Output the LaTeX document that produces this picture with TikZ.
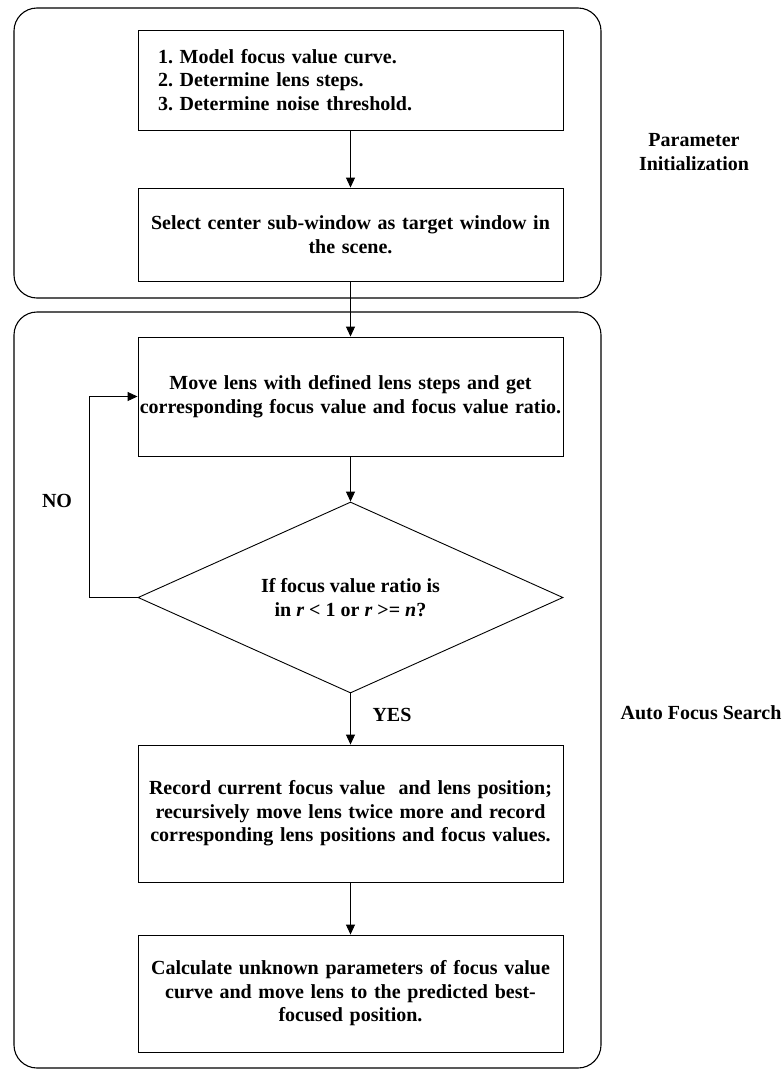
\documentclass[tikz,border=0pt]{standalone}
\usepackage{fontspec}
\setmainfont{Liberation Serif}
\usetikzlibrary{shapes.geometric,arrows.meta}
\frenchspacing
\begin{document}
\begin{tikzpicture}[x=1pt,y=-1pt,
  every node/.style={font=\fontsize{20}{23.5}\selectfont\bfseries},
  frame/.style={draw, line width=1.1pt, rounded corners=23pt, minimum width=587pt, inner sep=0pt},
  stepbox/.style={draw, line width=0.9pt, minimum width=425pt, text width=425pt, inner sep=0pt, align=center},
  decision/.style={draw, line width=0.9pt, shape=diamond, aspect=2.225, minimum width=425pt, minimum height=191pt, inner sep=0pt, align=center},
  arr/.style={line width=0.9pt, -{Triangle[length=10pt,width=9pt]}},
  plain/.style={line width=0.9pt}
]
\useasboundingbox (0,0) rectangle (784,1071);
% frames
\node[frame, minimum height=290pt] (finit) at (307.5,153) {};
\node[frame, minimum height=756pt] (fauto) at (307.5,690) {};
% steps
\node[stepbox, minimum height=100pt, text width=385pt, inner xsep=20pt, align=left] (A) at (350.5,80)
  {1. Model focus value curve.\\2. Determine lens steps.\\3. Determine noise threshold.};
\node[stepbox, minimum height=93pt] (B) at (350.5,234.5)
  {Select center sub-window as target window in\\the scene.};
\node[stepbox, minimum height=119pt] (C) at (350.5,396.5)
  {Move lens with defined lens steps and get\\corresponding focus value and focus value ratio.};
\node[decision] (dia) at (350.5,597.5)
  {If focus value ratio is\\in \textit{r} < 1 or \textit{r} >= \textit{n}?};
\node[stepbox, minimum height=137pt] (D) at (350.5,813.5)
  {Record current focus value\ \ and lens position;\\recursively move lens twice more and record\\corresponding lens positions and focus values.};
\node[stepbox, minimum height=117pt] (E) at (350.5,993.5)
  {Calculate unknown parameters of focus value\\curve and move lens to the predicted best-\\focused position.};
% labels
\node[align=center] (linit) at (694,152) {Parameter\\Initialization};
\node (lauto) at (701,713) {Auto Focus Search};
\node (lno) at (57,501) {NO};
\node (lyes) at (392,715) {YES};
% connectors
\draw[arr] (A.south) -- (B.north);
\draw[arr] (B.south) -- (C.north);
\draw[arr] (C.south) -- (dia.north);
\draw[arr] (dia.south) -- (D.north);
\draw[arr] (D.south) -- (E.north);
\draw[arr] (dia.west) -- ([xshift=-48pt]dia.west) |- (C.west);
\end{tikzpicture}
\end{document}
